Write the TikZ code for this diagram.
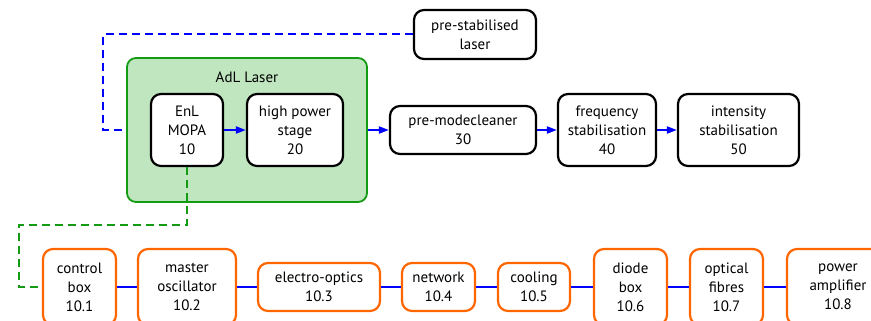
\documentclass[tikz,border=0pt]{standalone}
\usepackage{fontspec}
\setmainfont{PT Sans}
\usetikzlibrary{arrows.meta, positioning}

\definecolor{flowblue}{RGB}{0,0,255}
\definecolor{adlgreen}{RGB}{20,155,20}
\definecolor{adlfill}{RGB}{192,230,192}
\definecolor{partorange}{RGB}{255,102,0}

\begin{document}
\begin{tikzpicture}[x=1pt, y=-1pt,
    font=\fontsize{15}{19}\selectfont,
    stage/.style={draw=black, line width=2.2pt, rounded corners=10pt, fill=white,
        align=center, inner sep=0pt},
    part/.style={draw=partorange, line width=2.2pt, rounded corners=10pt, fill=white,
        align=center, inner sep=0pt},
    flow/.style={flowblue, line width=2pt, -{Triangle[length=10pt,width=7pt]}},
    link/.style={flowblue, line width=2pt},
    feed/.style={line width=2pt, dash pattern=on 8pt off 5pt}]
    \useasboundingbox (0,0) rectangle (871,321);

    % AdL laser housing
    \node[draw=adlgreen, fill=adlfill, line width=1.8pt, rounded corners=9pt,
        minimum width=240pt, minimum height=144pt] (adl) at (247,130) {};
    \node (adllabel) at (247,77) {AdL Laser};

    % Main chain
    \node[stage, minimum width=72pt, minimum height=72pt] (mopa) at (187,130) {EnL\\MOPA\\10};
    \node[stage, minimum width=96pt, minimum height=72pt] (hps) at (295,130) {high power\\stage\\20};
    \node[stage, minimum width=146pt, minimum height=48pt] (pmc) at (463,130) {pre-modecleaner\\30};
    \node[stage, minimum width=98pt, minimum height=72pt] (freq) at (607,130) {frequency\\stabilisation\\40};
    \node[stage, minimum width=121pt, minimum height=72pt] (inten) at (738.5,130) {intensity\\stabilisation\\50};
    \node[stage, minimum width=122pt, minimum height=49pt] (prelaser) at (475,34.5) {pre-stabilised\\laser};

    \draw[flow] (mopa) -- (hps);
    \draw[flow] (adl) -- (pmc);
    \draw[flow] (pmc) -- (freq);
    \draw[flow] (freq) -- (inten);

    % Pre-stabilised laser feed into the housing
    \coordinate (seedbend) at (103,130);
    \draw[feed, flowblue] (prelaser.west) -| (seedbend) -- (adl.west);

    % MOPA sub-components
    \node[part, minimum width=73pt, minimum height=76pt] (ctrl) at (79.5,287) {control\\box\\10.1};
    \node[part, minimum width=98pt, minimum height=76pt] (osc) at (187,287) {master\\oscillator\\10.2};
    \node[part, minimum width=122pt, minimum height=48pt] (eo) at (319,287) {electro-optics\\10.3};
    \node[part, minimum width=73pt, minimum height=48pt] (net) at (438.5,287) {network\\10.4};
    \node[part, minimum width=72pt, minimum height=48pt] (cool) at (534,287) {cooling\\10.5};
    \node[part, minimum width=73pt, minimum height=76pt] (diode) at (630.5,287) {diode\\box\\10.6};
    \node[part, minimum width=73pt, minimum height=76pt] (fibres) at (726.5,287) {optical\\fibres\\10.7};
    \node[part, minimum width=102pt, minimum height=76pt] (amp) at (838,287) {power\\amplifier\\10.8};

    \foreach \a/\b in {ctrl/osc, osc/eo, eo/net, net/cool, cool/diode, diode/fibres, fibres/amp}
        \draw[link] (\a) -- (\b);

    % MOPA breakdown link
    \coordinate (partbend) at (19,225);
    \draw[feed, adlgreen] (mopa.south) |- (partbend) |- (ctrl.west);
\end{tikzpicture}
\end{document}
